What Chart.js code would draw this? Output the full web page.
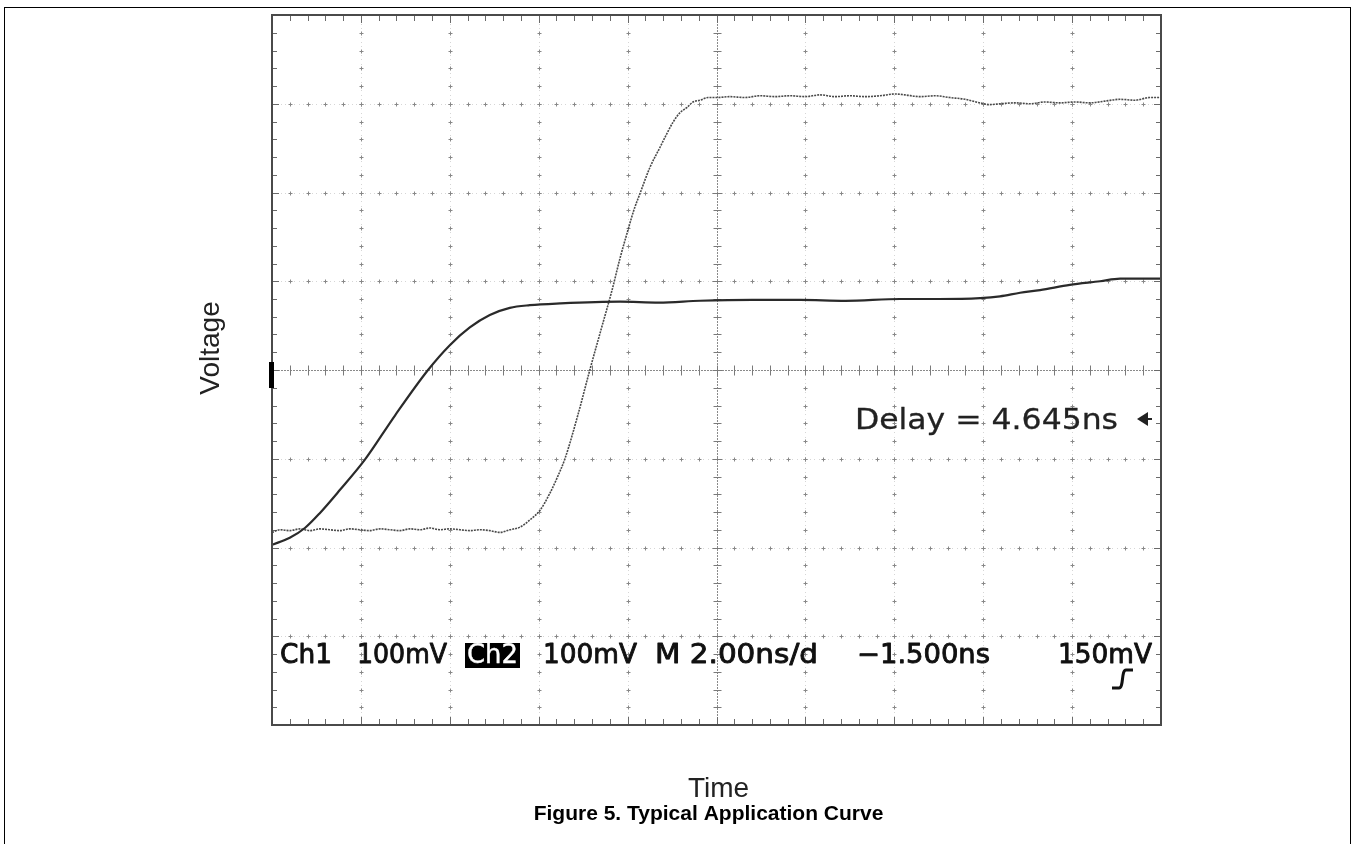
<!DOCTYPE html>
<html>
<head>
<meta charset="utf-8">
<script src="https://cdn.jsdelivr.net/npm/chart.js@4.4.1/dist/chart.umd.min.js"></script>
<style>
  html, body { margin:0; padding:0; background:#fff; width:1353px; height:844px; overflow:hidden; }
  #wrap { position:relative; width:1353px; height:844px; }
  #c { position:absolute; left:0; top:0; }
  #frame { position:absolute; left:4px; top:7px; width:1345px; height:860px; border:1.5px solid #000; pointer-events:none; }
</style>
</head>
<body>
<div id="wrap">
<canvas id="c" width="1353" height="844"></canvas>
<div id="frame"></div>
</div>
<script>
// ---- Data (time in ns, 2 ns/div; voltage in mV, 100 mV/div, 0 at screen centre) ----
const ch1Time = [0,0.40,0.74,1.08,1.53,2.09,2.77,3.51,4.00,4.45,4.90,5.35,5.80,6.48,7.83,8.70,9.63,10.80,11.88,12.90,14.13,15.00,15.93,16.38,16.83,17.28,17.95,18.63,19.08,20];
const ch1Volt = [-197,-189,-178,-161,-135,-101,-51,0,28,48,62,70,73,75,77,76,78,79,79,78,80,80,81,83,87,90,96,100,103,103];

const ch2Time = [0,0.18,0.40,0.63,0.85,1.08,1.30,1.53,1.75,1.98,2.20,2.43,2.65,2.88,3.10,3.33,3.55,3.78,4.00,4.23,4.45,4.68,4.90,5.13,5.35,5.58,5.80,6.03,6.25,6.41,6.59,6.88,7.15,7.40,7.65,7.83,8.01,8.14,8.28,8.50,8.73,8.89,9.02,9.18,9.34,9.47,9.63,9.81,10.01,10.30,10.64,10.98,11.32,11.65,11.99,12.33,12.67,13.00,13.34,13.68,14.02,14.24,14.58,14.92,15.25,15.59,15.93,16.15,16.38,16.72,17.05,17.39,17.73,18.07,18.40,18.74,19.08,19.41,19.75,20];
const ch2Volt = [-183,-180,-181,-179,-181,-179,-180,-181,-179,-180,-181,-179,-180,-181,-179,-180,-178,-180,-179,-180,-181,-180,-181,-183,-180,-177,-169,-158,-139,-122,-100,-51,0,45,90,126,158,180,199,228,251,267,279,290,296,302,304,307,307,308,307,309,308,309,308,310,308,309,308,309,311,310,308,309,307,305,301,299,300,301,300,302,301,302,301,303,305,304,307,307];

// Axis ranges / divisions
const xMin = 0, xMax = 20, xMajor = 2, xMinor = 0.4;
const yMin = -400, yMax = 400, yMajor = 100, yMinor = 20;

// Text
const axisTitleY = "Voltage";
const axisTitleX = "Time";
const caption = "Figure 5. Typical Application Curve";
const readout = ["Ch1", "100mV", "Ch2", "100mV", "M 2.00ns/d", "\u22121.500ns", "150mV"];
const delayLabel = "Delay = 4.645ns";

function fitText(ctx, str, x0, x1, baseline, font, color, stroke) {
  ctx.save();
  ctx.font = font;
  ctx.textAlign = 'left';
  ctx.textBaseline = 'alphabetic';
  const w = ctx.measureText(str).width;
  ctx.translate(x0, baseline);
  ctx.scale((x1 - x0) / w, 1);
  ctx.fillStyle = color;
  ctx.fillText(str, 0, 0);
  if (stroke) { ctx.strokeStyle = color; ctx.lineWidth = stroke; ctx.lineJoin = 'round'; ctx.strokeText(str, 0, 0); }
  ctx.restore();
}

const scopeGrid = {
  id: 'scopeGrid',
  beforeDatasetsDraw(chart) {
    const ctx = chart.ctx, xs = chart.scales.x, ys = chart.scales.y;
    const { left, right, top, bottom } = chart.chartArea;
    const eps = 1e-6;
    ctx.save();
    // regular vertical gridlines
    for (let gx = xMin + xMajor; gx < xMax - eps; gx += xMajor) {
      if (Math.abs(gx - (xMin + xMax) / 2) < eps) continue;
      const px = Math.round(xs.getPixelForValue(gx)) + 0.5;
      ctx.fillStyle = '#d6d6d6';
      for (let v = yMin; v <= yMax; v += 5) {
        ctx.fillRect(px - 0.5, Math.round(ys.getPixelForValue(v)), 1, 1);
      }
      ctx.strokeStyle = '#888'; ctx.lineWidth = 1;
      for (let v = yMin + yMinor; v < yMax - eps; v += yMinor) {
        const py = Math.round(ys.getPixelForValue(v)) + 0.5;
        ctx.beginPath();
        ctx.moveTo(px - 2, py); ctx.lineTo(px + 2, py);
        ctx.moveTo(px, py - 2); ctx.lineTo(px, py + 2);
        ctx.stroke();
      }
    }
    // regular horizontal gridlines
    for (let gy = yMin + yMajor; gy < yMax - eps; gy += yMajor) {
      if (Math.abs(gy - (yMin + yMax) / 2) < eps) continue;
      const py = Math.round(ys.getPixelForValue(gy)) + 0.5;
      ctx.fillStyle = '#d6d6d6';
      for (let v = xMin; v <= xMax; v += 0.1) {
        ctx.fillRect(Math.round(xs.getPixelForValue(v)), py - 0.5, 1, 1);
      }
      ctx.strokeStyle = '#888'; ctx.lineWidth = 1;
      for (let v = xMin + xMinor; v < xMax - eps; v += xMinor) {
        const px = Math.round(xs.getPixelForValue(v)) + 0.5;
        ctx.beginPath();
        ctx.moveTo(px - 2, py); ctx.lineTo(px + 2, py);
        ctx.moveTo(px, py - 2); ctx.lineTo(px, py + 2);
        ctx.stroke();
      }
    }
    // centre crosshair
    const cx = Math.round(xs.getPixelForValue((xMin + xMax) / 2)) + 0.5;
    const cy = Math.round(ys.getPixelForValue((yMin + yMax) / 2)) + 0.5;
    ctx.strokeStyle = '#8a8a8a'; ctx.lineWidth = 1;
    ctx.setLineDash([2, 1]);
    ctx.beginPath(); ctx.moveTo(cx, top); ctx.lineTo(cx, bottom); ctx.stroke();
    ctx.beginPath(); ctx.moveTo(left, cy); ctx.lineTo(right, cy); ctx.stroke();
    ctx.setLineDash([]);
    ctx.strokeStyle = '#7a7a7a';
    for (let v = yMin + yMinor; v < yMax - eps; v += yMinor) {
      const py = Math.round(ys.getPixelForValue(v)) + 0.5;
      const len = (Math.abs(v % yMajor) < eps) ? 5 : 4;
      ctx.beginPath(); ctx.moveTo(cx - len, py); ctx.lineTo(cx + len, py); ctx.stroke();
    }
    for (let v = xMin + xMinor; v < xMax - eps; v += xMinor) {
      const px = Math.round(xs.getPixelForValue(v)) + 0.5;
      ctx.beginPath(); ctx.moveTo(px, cy - 5); ctx.lineTo(px, cy + 5); ctx.stroke();
    }
    // frame ticks
    ctx.strokeStyle = '#6a6a6a';
    for (let v = xMin + xMinor; v < xMax - eps; v += xMinor) {
      const px = Math.round(xs.getPixelForValue(v)) + 0.5;
      const major = Math.abs((v / xMajor) - Math.round(v / xMajor)) < 1e-3;
      const l = major ? 8 : 6;
      ctx.beginPath();
      ctx.moveTo(px, top); ctx.lineTo(px, top + l);
      ctx.moveTo(px, bottom); ctx.lineTo(px, bottom - l);
      ctx.stroke();
    }
    for (let v = yMin + yMinor; v < yMax - eps; v += yMinor) {
      const py = Math.round(ys.getPixelForValue(v)) + 0.5;
      const major = Math.abs((v / yMajor) - Math.round(v / yMajor)) < 1e-3;
      const l = major ? 7 : 5;
      ctx.beginPath();
      ctx.moveTo(left, py); ctx.lineTo(left + l, py);
      ctx.moveTo(right, py); ctx.lineTo(right - l, py);
      ctx.stroke();
    }
    ctx.restore();
  },
  afterDatasetsDraw(chart) {
    const ctx = chart.ctx, xs = chart.scales.x, ys = chart.scales.y;
    const { left, right, top, bottom } = chart.chartArea;
    ctx.save();
    // frame
    ctx.strokeStyle = '#4a4a4a'; ctx.lineWidth = 2;
    ctx.strokeRect(left, top, right - left, bottom - top);
    // ground marker
    ctx.fillStyle = '#000';
    ctx.fillRect(left - 3, ys.getPixelForValue(0) - 8, 5, 26);

    // readout text
    const f = '27px "DejaVu Sans"';
    fitText(ctx, readout[0], 280, 332, 663, f, '#111', 0.9);
    fitText(ctx, readout[1], 357, 447, 663, f, '#111', 0.9);
    ctx.fillStyle = '#000';
    ctx.fillRect(465, 643, 55, 25);
    fitText(ctx, readout[2], 467, 518, 663, f, '#fff', 0.4);
    fitText(ctx, readout[3], 543, 637, 663, f, '#111', 0.9);
    fitText(ctx, readout[4], 655, 818, 663, f, '#111', 0.9);
    fitText(ctx, readout[5], 857, 990, 663, f, '#111', 0.9);
    fitText(ctx, readout[6], 1058, 1152, 663, f, '#111', 0.9);
    // trigger slope symbol
    ctx.strokeStyle = '#111'; ctx.lineWidth = 3; ctx.lineCap = 'butt';
    ctx.beginPath();
    ctx.moveTo(1112, 688); ctx.lineTo(1119, 688);
    ctx.bezierCurveTo(1124, 688, 1121, 670, 1126, 670);
    ctx.lineTo(1133, 670);
    ctx.stroke();

    // delay text + arrow
    fitText(ctx, delayLabel, 855, 1118, 429, '29px "DejaVu Sans"', '#222', 0.3);
    ctx.fillStyle = '#222';
    ctx.beginPath();
    ctx.moveTo(1137, 419); ctx.lineTo(1148, 412); ctx.lineTo(1148, 426); ctx.closePath(); ctx.fill();
    ctx.fillRect(1147, 418, 5, 2);

    // axis titles and caption
    ctx.fillStyle = '#222';
    ctx.font = '28px "Liberation Sans", Arial, sans-serif';
    ctx.textAlign = 'center';
    ctx.textBaseline = 'alphabetic';
    ctx.fillText(axisTitleX, (left + right) / 2 + 2, 797);
    ctx.save();
    ctx.translate(219, 348);
    ctx.rotate(-Math.PI / 2);
    ctx.fillText(axisTitleY, 0, 0);
    ctx.restore();
    ctx.fillStyle = '#000';
    ctx.font = 'bold 21px "Liberation Sans", Arial, sans-serif';
    ctx.fillText(caption, 708.5, 820);
    ctx.restore();
  }
};

const pts = (xs, ys) => xs.map((x, i) => ({ x, y: ys[i] }));

new Chart(document.getElementById('c'), {
  type: 'line',
  data: {
    datasets: [
      {
        label: 'Ch1',
        data: pts(ch1Time, ch1Volt),
        borderColor: '#2a2a2a',
        borderWidth: 2.2,
        pointRadius: 0,
        cubicInterpolationMode: 'monotone',
        fill: false
      },
      {
        label: 'Ch2',
        data: pts(ch2Time, ch2Volt),
        borderColor: '#4a4a4a',
        borderWidth: 1.6,
        borderDash: [2, 1],
        pointRadius: 0,
        cubicInterpolationMode: 'monotone',
        fill: false
      }
    ]
  },
  options: {
    responsive: false,
    animation: false,
    devicePixelRatio: 1,
    layout: { padding: { left: 272, top: 15, right: 192, bottom: 119 } },
    plugins: { legend: { display: false }, tooltip: { enabled: false }, title: { display: false } },
    scales: {
      x: { type: 'linear', min: xMin, max: xMax, display: false },
      y: { type: 'linear', min: yMin, max: yMax, display: false }
    }
  },
  plugins: [scopeGrid]
});
</script>
</body>
</html>
